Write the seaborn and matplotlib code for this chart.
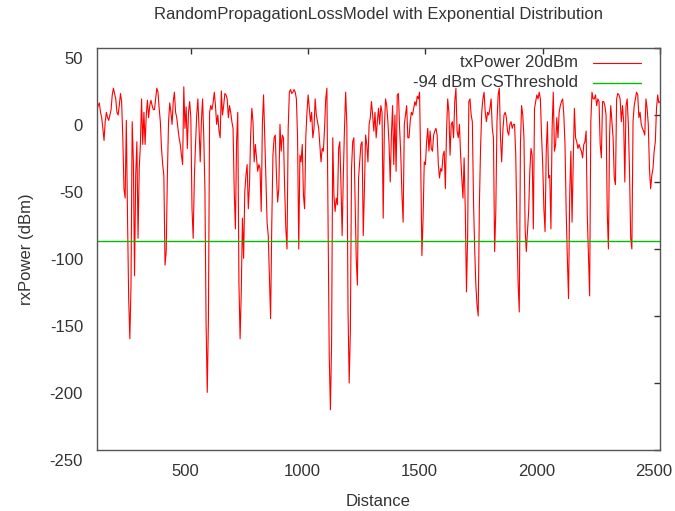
import pandas as pd
import matplotlib.pyplot as plt
import matplotlib.transforms as mtransforms
import seaborn as sns

# Estilo tipo gnuplot
sns.set_style("white")
plt.rcParams['font.family'] = ['Liberation Sans', 'DejaVu Sans']
plt.rcParams['axes.unicode_minus'] = False

# Datos (distancia cada 5 m)
distance = list(range(100, 2501, 5))

rx_100_500 = [4, 7, 9, 2, -2, -10, -19, -5, 2, -2,
              -4, 0, 4, 15, 20, 16, 12, 2, 0, 7,
              16, 10, -17, -55, -62, -4, -75, -137, -167, -127,
              -5, -34, -120, -45, -20, -92, -40, -22, 12, -22,
              2, -22, 0, 11, -2, 7, 11, 7, 4, 4,
              12, 20, 17, 5, -5, -25, -37, -45, -112, -102,
              -45, -5, 9, 2, -7, 10, 17, 2, -2, -10,
              -17, -22, -30, -37, 21, -10, 6, -25, 2, 10,
              -2]
rx_505_895 = [-70, -92, -47, -22, 0, 12, -10, -35, -5, 12,
              -15, -55, -155, -207, -152, 2, 7, 4, 9, 17,
              7, -7, 0, -12, -17, 18, 0, 7, 16, 15,
              12, -2, 7, 2, -5, -10, -57, -85, -20, 2,
              -125, -167, -132, -77, -107, -57, -45, -37, -70, -52,
              -15, 5, -5, -35, -22, -32, -42, -37, -40, -72,
              -7, 15, -15, -47, -80, -90, -122, -152, -82, -30,
              -17, -15, -45, -65, -55, -7, -27, -15, -17]
rx_900_1295 = [-55, -85, -100, -10, 17, 19, 16, 17, 19, 17,
               12, -17, -100, -30, -35, -22, -60, -70, -17, 2,
               15, 5, -5, 2, -17, -10, 12, 0, -5, -10,
               -22, -35, -25, -27, -10, 12, 20, -80, -180, -220,
               -170, -17, -60, -72, -62, -67, -25, -20, -52, -90,
               -45, -10, 17, -7, -145, -200, -162, -40, -20, -17,
               -60, -107, -127, -47, -35, -22, -20, -90, -55, -15,
               -22, -35, -7, -2, 10, 0, -12, 2, -17, -5]
rx_1300_1695 = [5, -7, 7, 2, -77, -10, 12, 7, -5, -22,
                -50, -15, 7, -37, 0, -42, 15, 16, -10, -30,
                -60, -80, -7, 0, 7, -17, -17, -5, 2, 0,
                5, 10, 7, 14, 12, 17, -37, -105, -77, -35,
                -37, -20, -10, -27, -12, -25, -27, -15, -12, -10,
                -15, -37, -47, -40, -42, -30, -27, -55, -12, 12,
                2, -30, -7, -5, -17, 10, 20, -12, -17, -7,
                -30, -47, -62, -32, -72, -132, -90, 10, 12, 0]
rx_1700_2100 = [-5, -65, -100, -127, -142, -150, -67, -25, 2, 12,
                17, 2, -5, 2, 0, 5, 12, -10, -17, -102,
                -72, -5, 15, 20, -17, -35, -12, 0, 2, -2,
                -12, -15, -7, -5, -10, -7, -7, -30, -82, -125,
                -147, -22, 7, 0, -17, -85, -102, -87, -72, -42,
                -25, -30, -85, 5, 10, 15, 12, 17, 12, -15,
                -37, -70, -87, -27, -5, -47, -45, -85, -10, 17,
                -27, -22, -2, -17, 2, 7, 10, 12, 0, -22,
                -72]
rx_2105_2500 = [-107, -137, -60, -27, -80, -35, 5, -17, -20, -25,
                -22, -25, -27, -32, -22, -20, -12, -75, -105, -135,
                -5, 17, 12, 12, 15, 7, 12, 10, -22, -32,
                10, 10, 7, 0, -72, -100, -15, 7, -5, -17,
                -47, -52, 12, 16, 15, 12, -5, 7, -5, -50,
                7, 12, -7, -42, -92, -100, -5, 7, 12, 17,
                15, -2, 2, -7, -10, -12, -15, 12, 5, -7,
                -40, -55, -45, -40, -27, -20, 5, 15, 9, 10]

rx_power = (rx_100_500 + rx_505_895 + rx_900_1295 + rx_1300_1695
            + rx_1700_2100 + rx_2105_2500)
cs_threshold = -94.0

df = pd.DataFrame({'Distance': distance, 'rxPower': rx_power})

fig = plt.figure(figsize=(6.75, 5.11), dpi=100)
ax = fig.add_axes([0.1437, 0.1194, 0.8341, 0.7867])

sns.lineplot(data=df, x='Distance', y='rxPower', ax=ax, color='#ff0000',
             linewidth=0.8, sort=False, errorbar=None, legend=False)
ax.axhline(cs_threshold, color='#00c000', linewidth=1.0)

ax.set_xlim(100, 2500)
ax.set_ylim(-250, 50)
ax.set_xticks([500, 1000, 1500, 2000, 2500])
ax.set_yticks([50, 0, -50, -100, -150, -200, -250])

text_color = '#333333'
ax.tick_params(direction='in', length=4, width=1, color='#333333',
               top=True, right=True, labelsize=12, labelcolor=text_color)
ax.tick_params(axis='x', pad=10)
ax.tick_params(axis='y', pad=10)
for spine in ax.spines.values():
    spine.set_color('#555555')
    spine.set_linewidth(1)

# gnuplot desplaza un poco las etiquetas
dy = mtransforms.ScaledTranslation(0, -10 / 100, fig.dpi_scale_trans)
for lbl in ax.get_yticklabels():
    lbl.set_transform(lbl.get_transform() + dy)
dx = mtransforms.ScaledTranslation(-6 / 100, 0, fig.dpi_scale_trans)
for lbl in ax.get_xticklabels():
    lbl.set_transform(lbl.get_transform() + dx)

ax.set_title('RandomPropagationLossModel with Exponential Distribution',
             fontsize=12, color=text_color, pad=21)
ax.set_xlabel('Distance', fontsize=12, color=text_color, labelpad=11)
ax.set_ylabel('rxPower (dBm)', fontsize=12, color=text_color, labelpad=11)

# Leyenda manual estilo gnuplot (texto alineado a la derecha)
ax.text(0.854, 0.963, 'txPower 20dBm', transform=ax.transAxes, ha='right',
        va='center', fontsize=12, color=text_color)
ax.plot([0.881, 0.966], [0.963, 0.963], transform=ax.transAxes,
        color='#ff0000', linewidth=0.8)
ax.text(0.854, 0.913, '-94 dBm CSThreshold', transform=ax.transAxes, ha='right',
        va='center', fontsize=12, color=text_color)
ax.plot([0.881, 0.966], [0.913, 0.913], transform=ax.transAxes,
        color='#00c000', linewidth=1.0)

fig.savefig('out.png', dpi=100)
